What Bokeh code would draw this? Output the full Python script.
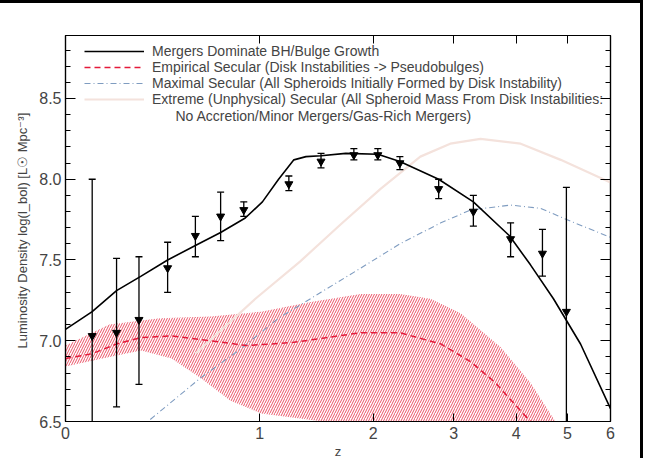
from bokeh.plotting import figure
from bokeh.models import (FixedTicker, SingleIntervalTicker, LinearAxis, LogAxis,
                          Legend, LegendItem, Label, ColumnDataSource, PrintfTickFormatter)
from bokeh.embed import file_html
from bokeh.resources import INLINE

# ---- data ----
z_obs = [0.10, 0.20, 0.30, 0.44, 0.59, 0.74, 0.89, 1.22, 1.49, 1.80, 2.05, 2.30, 2.79, 3.29, 3.90, 4.49, 4.98]
L_obs = [7.03, 7.05, 7.13, 7.45, 7.65, 7.77, 7.81, 7.97, 8.11, 8.15, 8.15, 8.10, 7.94, 7.80, 7.63, 7.54, 7.18]
L_hi = [8.00, 7.51, 7.52, 7.61, 7.77, 7.92, 7.86, 8.02, 8.16, 8.19, 8.19, 8.14, 8.00, 7.90, 7.73, 7.69, 7.95]
L_lo = [6.00, 6.59, 6.73, 7.30, 7.52, 7.62, 7.77, 7.93, 8.07, 8.12, 8.12, 8.06, 7.88, 7.71, 7.52, 7.40, 6.00]

z_merg = [0.0, 0.10, 0.20, 0.31, 0.44, 0.59, 0.74, 0.90, 1.02, 1.14, 1.26, 1.36, 1.49, 1.72, 2.05, 2.30, 2.79, 3.29, 3.88, 4.26, 4.71, 5.29, 6.0]
L_merg = [7.07, 7.18, 7.31, 7.40, 7.50, 7.59, 7.67, 7.76, 7.86, 8.00, 8.12, 8.14, 8.145, 8.16, 8.155, 8.11, 8.00, 7.86, 7.65, 7.47, 7.26, 6.98, 6.58]

z_emp = [0.0, 0.10, 0.20, 0.31, 0.46, 0.68, 0.91, 1.26, 1.87, 2.30, 2.82, 3.25, 3.64, 3.99, 4.26, 4.55]
L_emp = [6.89, 6.92, 6.98, 7.02, 7.03, 7.00, 6.97, 6.99, 7.05, 7.05, 6.98, 6.87, 6.74, 6.60, 6.50, 6.38]

z_band_hi = [0.0, 0.17, 0.40, 0.68, 1.01, 1.40, 1.87, 2.30, 2.68, 3.10, 3.73, 4.26, 4.75, 5.07]
L_band_hi = [6.97, 7.10, 7.14, 7.15, 7.18, 7.24, 7.29, 7.29, 7.26, 7.17, 6.96, 6.74, 6.50, 6.35]
z_band_lo = [0.0, 0.17, 0.31, 0.46, 0.62, 0.80, 1.01, 1.51, 2.30, 5.07]
L_band_lo = [6.84, 6.90, 6.94, 6.89, 6.77, 6.63, 6.55, 6.50, 6.40, 6.35]

z_max = [0.26, 0.62, 0.87, 1.14, 1.49, 1.87, 2.30, 2.82, 3.25, 3.90, 4.45, 5.07, 6.0]
L_max = [6.41, 6.77, 6.95, 7.14, 7.30, 7.45, 7.60, 7.73, 7.81, 7.84, 7.82, 7.74, 7.64]

z_ext = [0.59, 0.97, 1.31, 1.67, 2.08, 2.55, 2.95, 3.40, 4.08, 4.86, 6.0]
L_ext = [6.92, 7.26, 7.49, 7.72, 7.94, 8.14, 8.22, 8.25, 8.22, 8.12, 7.98]

z_ticks = [0, 1, 2, 3, 4, 5, 6]

legend_labels = [
    "Mergers Dominate BH/Bulge Growth",
    "Empirical Secular (Disk Instabilities -> Pseudobulges)",
    "Maximal Secular (All Spheroids Initially Formed by Disk Instability)",
    "Extreme (Unphysical) Secular (All Spheroid Mass From Disk Instabilities:",
]
legend_cont = "No Accretion/Minor Mergers/Gas-Rich Mergers)"

FONT = "Liberation Sans"


def opz(zs):
    # the x axis is logarithmic in (1+z)
    return [1.0 + z for z in zs]


p = figure(width=643, height=458, x_axis_type="log", x_range=(1, 7), y_range=(6.5, 8.89),
           output_backend="svg", toolbar_location=None,
           min_border_left=65, min_border_right=33, min_border_top=32, min_border_bottom=38)
p.grid.visible = False
p.outline_line_color = "black"
p.outline_line_width = 1.2
p.background_fill_color = "white"
p.border_fill_color = "white"

# hatched band (extreme range of empirical secular)
band_x = opz(z_band_hi) + opz(z_band_lo)[::-1]
band_y = L_band_hi + L_band_lo[::-1]
p.patch(band_x, band_y, fill_alpha=0, line_alpha=0, hatch_pattern="/",
        hatch_color="#e8334a", hatch_scale=5, hatch_weight=1.0, hatch_alpha=0.85)

r_ext = p.line(opz(z_ext), L_ext, line_color="#f4e2dc", line_width=2.2)
r_max = p.line(opz(z_max), L_max, line_color="#7f9cc0", line_width=1.1, line_dash="6 3 1 3")
r_emp = p.line(opz(z_emp), L_emp, line_color="#e41a3a", line_width=1.5, line_dash="6 4")
r_merg = p.line(opz(z_merg), L_merg, line_color="black", line_width=1.6)

# error bars and data points
src = ColumnDataSource(dict(x=opz(z_obs), y=L_obs, hi=L_hi, lo=L_lo))
p.segment(x0="x", y0="lo", x1="x", y1="hi", source=src, line_color="black", line_width=1.3)
p.scatter(x="x", y="hi", source=src, marker="dash", size=7, line_color="black", line_width=1.3)
p.scatter(x="x", y="lo", source=src, marker="dash", size=7, line_color="black", line_width=1.3)
p.scatter(x="x", y="y", source=src, marker="inverted_triangle", size=8,
          fill_color="black", line_color="black")

# axes
xt = FixedTicker(ticks=opz(z_ticks), minor_ticks=[])
overrides = {1.0 + z: str(z) for z in z_ticks}
xa = p.xaxis[0]
xa.ticker = xt
xa.major_label_overrides = overrides
xa.axis_label = "z"
xa.axis_label_text_font = FONT
xa.axis_label_text_font_size = "13px"
xa.axis_label_text_font_style = "normal"
xa.axis_label_standoff = 2
xa.major_label_text_font = FONT
xa.major_label_text_font_size = "16px"
xa.major_label_standoff = 5
xa.major_tick_in = 8
xa.major_tick_out = 0
xa.axis_line_width = 1.2

ya = p.yaxis[0]
ya.ticker = SingleIntervalTicker(interval=0.5, num_minor_ticks=5)
ya.formatter = PrintfTickFormatter(format="%.1f")
ya.axis_label = "Luminosity Density  log(l_bol)  [L\u2609 Mpc\u207b\u00b3]"
ya.axis_label_text_font = FONT
ya.axis_label_text_font_size = "13px"
ya.axis_label_text_font_style = "normal"
ya.axis_label_standoff = 6
ya.major_label_text_font = FONT
ya.major_label_text_font_size = "16px"
ya.major_label_standoff = 4
ya.major_tick_in = 10
ya.major_tick_out = 0
ya.minor_tick_in = 5
ya.minor_tick_out = 0
ya.axis_line_width = 1.2

top = LogAxis(ticker=FixedTicker(ticks=opz(z_ticks), minor_ticks=[]),
              major_tick_in=8, major_tick_out=0, major_label_text_alpha=0,
              major_label_text_font_size="1px", axis_line_width=1.2)
p.add_layout(top, "above")
right = LinearAxis(ticker=SingleIntervalTicker(interval=0.5, num_minor_ticks=5),
                   major_tick_in=10, major_tick_out=0, minor_tick_in=5, minor_tick_out=0,
                   major_label_text_alpha=0, major_label_text_font_size="1px", axis_line_width=1.2)
p.add_layout(right, "right")

# legend
items = [LegendItem(label=lab, renderers=[r]) for lab, r in
         zip(legend_labels, [r_merg, r_emp, r_max, r_ext])]
leg = Legend(items=items, location=(19, 314), padding=0, margin=0, spacing=0,
             glyph_width=60, glyph_height=16, label_height=16, label_standoff=8,
             label_text_font=FONT, label_text_font_size="14px",
             border_line_alpha=0, background_fill_alpha=0)
p.add_layout(leg)
p.add_layout(Label(x=110, y=306, x_units="screen", y_units="screen", text=legend_cont,
                   text_font=FONT, text_font_size="14px", text_baseline="middle"))

p.styles = {"border-top": "3px solid black", "border-right": "3px solid black"}

open("out.html", "w").write(file_html(p, INLINE))
